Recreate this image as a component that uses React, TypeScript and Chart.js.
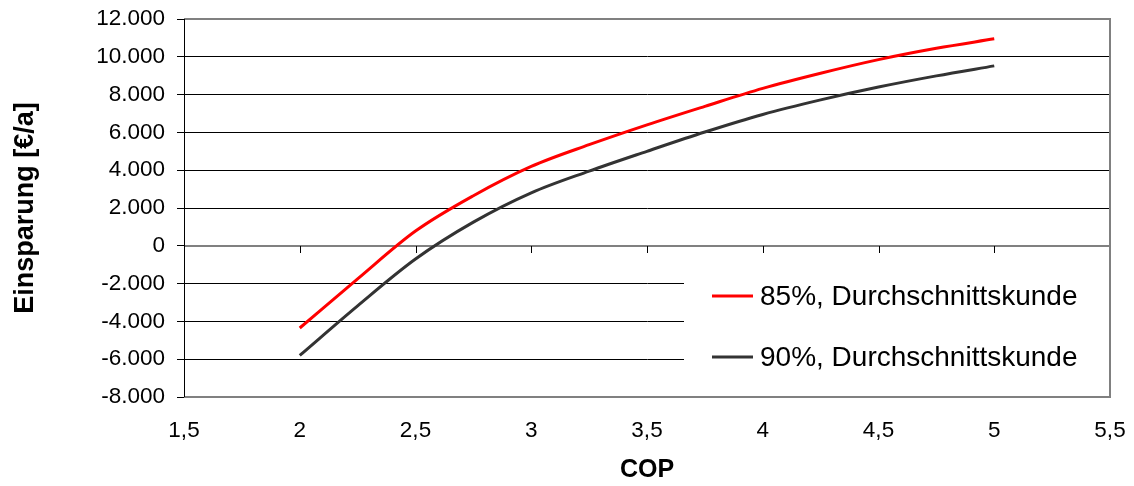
import React, { useEffect, useRef } from "react";
import { Chart, registerables } from "chart.js";

Chart.register(...registerables);

const COP = [2.0, 2.25, 2.5, 2.75, 3.0, 3.25, 3.5, 3.75, 4.0, 4.25, 4.5, 4.75, 5.0];
const SERIES_85 = [-4350, -1750, 780, 2650, 4200, 5350, 6400, 7380, 8330, 9130, 9850, 10450, 10950];
const SERIES_90 = [-5800, -3175, -700, 1250, 2800, 3950, 5000, 6020, 6950, 7720, 8400, 8990, 9520];
const LABELS = ["85%, Durchschnittskunde", "90%, Durchschnittskunde"];
const COLORS = ["#FF0000", "#333333"];
const X_TITLE = "COP";
const Y_TITLE = "Einsparung [€/a]";

const FONT = "'Liberation Sans', Arial, Helvetica, sans-serif";

function deNumber(v: number): string {
  const s = Math.abs(Math.round(v)).toString().replace(/\B(?=(\d{3})+(?!\d))/g, ".");
  return (v < 0 ? "-" : "") + s;
}

const framePlugin = {
  id: "frame",
  beforeDatasetsDraw(chart: any) {
    const { ctx, chartArea, scales } = chart;
    const y0 = Math.round(scales.y.getPixelForValue(0));
    ctx.save();
    ctx.strokeStyle = "#808080";
    ctx.lineWidth = 2;
    ctx.beginPath();
    ctx.moveTo(chartArea.left, y0);
    ctx.lineTo(chartArea.right, y0);
    ctx.stroke();
    ctx.strokeStyle = "#000";
    ctx.lineWidth = 1;
    for (const t of scales.x.ticks) {
      const px = Math.round(scales.x.getPixelForValue(t.value)) + 0.5;
      ctx.beginPath();
      ctx.moveTo(px, y0);
      ctx.lineTo(px, y0 + 7);
      ctx.stroke();
    }
    ctx.restore();
  },
  afterDatasetsDraw(chart: any) {
    const { ctx, chartArea, data } = chart;
    ctx.save();
    const lx = chartArea.left + 500;
    const ly = chartArea.bottom - 140;
    ctx.fillStyle = "#fff";
    ctx.fillRect(lx, ly, chartArea.right - lx - 1, chartArea.bottom - ly - 1);
    const rows = [chartArea.bottom - 101, chartArea.bottom - 40];
    data.datasets.forEach((ds: any, i: number) => {
      const y = rows[i];
      ctx.strokeStyle = ds.borderColor;
      ctx.lineWidth = 3;
      ctx.beginPath();
      ctx.moveTo(lx + 28, y);
      ctx.lineTo(lx + 69, y);
      ctx.stroke();
      ctx.fillStyle = "#000";
      ctx.font = `28px ${FONT}`;
      ctx.textAlign = "left";
      ctx.textBaseline = "middle";
      ctx.fillText(ds.label, lx + 76, y + 1);
    });
    ctx.restore();
  },
  afterDraw(chart: any) {
    const { ctx, chartArea } = chart;
    ctx.save();
    ctx.strokeStyle = "#808080";
    ctx.lineWidth = 2;
    ctx.beginPath();
    ctx.moveTo(chartArea.left, chartArea.top);
    ctx.lineTo(chartArea.right, chartArea.top);
    ctx.lineTo(chartArea.right, chartArea.bottom);
    ctx.lineTo(chartArea.left, chartArea.bottom);
    ctx.stroke();
    ctx.strokeStyle = "#000";
    ctx.lineWidth = 1;
    ctx.beginPath();
    ctx.moveTo(Math.round(chartArea.left) + 0.5, chartArea.top);
    ctx.lineTo(Math.round(chartArea.left) + 0.5, chartArea.bottom);
    ctx.stroke();
    ctx.restore();
  },
};

export default function App() {
  const ref = useRef<HTMLCanvasElement | null>(null);
  useEffect(() => {
    if (!ref.current) return;
    Chart.defaults.font.family = FONT;
    Chart.defaults.color = "#000";
    const chart = new Chart(ref.current, {
      type: "scatter",
      data: {
        datasets: [SERIES_85, SERIES_90].map((vals, i) => ({
          label: LABELS[i],
          data: COP.map((x, j) => ({ x, y: vals[j] })),
          showLine: true,
          borderColor: COLORS[i],
          backgroundColor: COLORS[i],
          borderWidth: 3,
          pointRadius: 0,
          cubicInterpolationMode: "monotone" as const,
          fill: false,
        })),
      },
      options: {
        responsive: false,
        animation: false,
        layout: { padding: { left: 0, right: 24, top: 19, bottom: 0 } },
        plugins: { legend: { display: false }, tooltip: { enabled: false } },
        scales: {
          x: {
            type: "linear",
            min: 1.5,
            max: 5.5,
            ticks: {
              stepSize: 0.5,
              padding: 20,
              font: { size: 22.5 },
              color: "#000",
              callback: (v: any) => String(v).replace(".", ","),
            },
            grid: { display: false, drawTicks: false },
            border: { display: false },
            title: {
              display: true,
              text: X_TITLE,
              font: { size: 25, weight: "bold", lineHeight: 1 },
              color: "#000",
              padding: { top: 0, bottom: 3.5 },
            },
            afterFit: (s: any) => {
              s.height = 89;
              s.paddingLeft = 0;
              s.paddingRight = 0;
            },
          },
          y: {
            type: "linear",
            min: -8000,
            max: 12000,
            ticks: {
              stepSize: 2000,
              padding: 12,
              font: { size: 22.5 },
              color: "#000",
              callback: (v: any) => deNumber(Number(v)),
            },
            grid: {
              color: "#000",
              lineWidth: 1,
              tickLength: 7,
              drawTicks: true,
              tickColor: "#000",
            },
            border: { display: true, color: "#000", width: 1 },
            title: {
              display: true,
              text: Y_TITLE,
              font: { size: 27, weight: "bold", lineHeight: 1.2 },
              color: "#000",
              padding: { top: 9, bottom: 0 },
            },
            afterFit: (s: any) => {
              s.width = 184;
              s.paddingTop = 0;
              s.paddingBottom = 0;
            },
          },
        },
      },
      plugins: [framePlugin],
    });
    return () => chart.destroy();
  }, []);
  return (
    <div style={{ position: "fixed", left: 0, top: 0, width: 1134, height: 486, background: "#fff" }}>
      <canvas ref={ref} width={1134} height={486} style={{ width: 1134, height: 486, display: "block" }} />
    </div>
  );
}
